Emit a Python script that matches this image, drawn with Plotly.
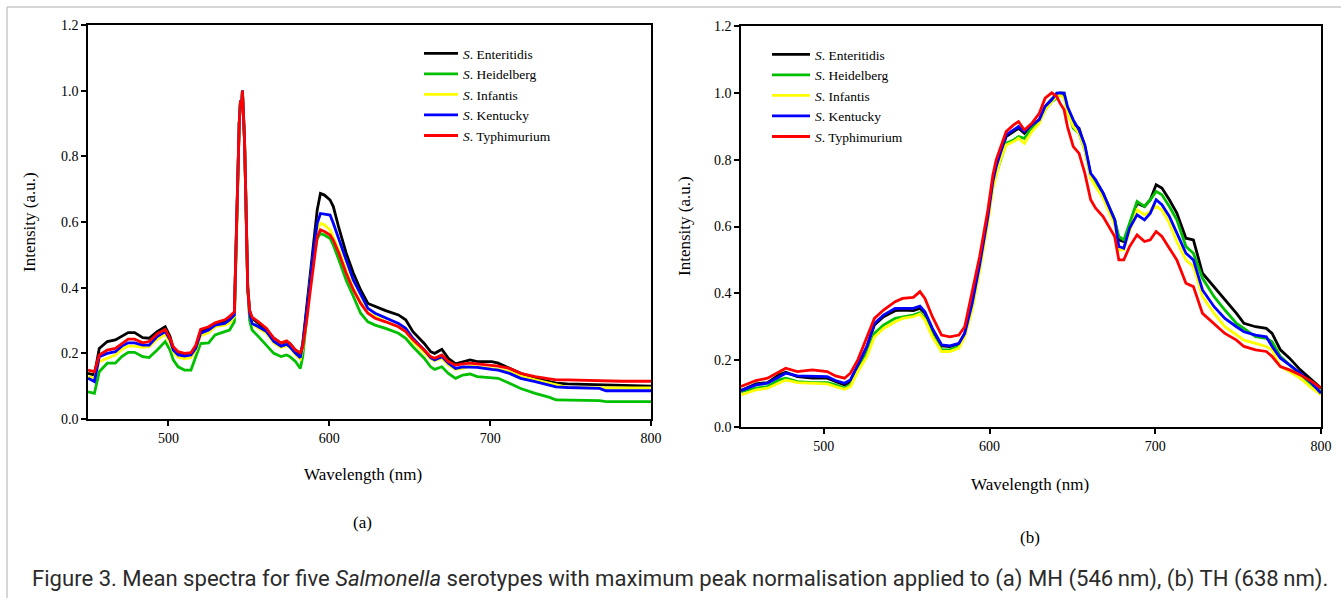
import plotly.graph_objects as go

W, H = 1341, 598

series_names = ["<i>S</i>. Enteritidis", "<i>S</i>. Heidelberg", "<i>S</i>. Infantis",
                "<i>S</i>. Kentucky", "<i>S</i>. Typhimurium"]
series_colors = ["#000000", "#00c000", "#ffff00", "#0000ff", "#ff0000"]

# ---------------- Panel (a): MH normalisation (546 nm) ----------------
wl_a = [450, 454, 457, 462, 467, 471, 475, 479, 484, 488, 493, 498, 501, 503, 506, 510, 514, 517,
        520, 525, 529, 535, 538, 541, 542.5, 543.3, 544, 544.8, 545.5, 546, 546.7, 547.3, 548,
        548.6, 549.3, 550.5, 552, 556, 561, 565.5, 570, 573.5, 575.5, 579, 582, 583.5, 586, 588,
        590, 592.5, 594.5, 597, 600.5, 602.5, 606, 610.5, 615, 619.5, 624, 628.5, 635, 643, 647.5,
        652, 659, 663, 665.5, 670, 674, 678.5, 683, 687.5, 692, 701, 705, 712, 719, 728, 737, 741,
        748, 768, 772, 782, 800]

peak_a = [0.62, 0.81, 0.90, 0.97, 0.95, 1.0, 0.93, 0.85, 0.70, 0.55, 0.40]

enteritidis_a = [0.139, 0.134, 0.215, 0.236, 0.241, 0.253, 0.263, 0.263, 0.248, 0.246, 0.266, 0.281,
                 0.251, 0.215, 0.200, 0.195, 0.200, 0.220, 0.266, 0.276, 0.291, 0.298, 0.312, 0.322] + peak_a + [
                 0.33, 0.307, 0.291, 0.271, 0.246, 0.230, 0.236, 0.230, 0.210, 0.195, 0.230, 0.342, 0.434,
                 0.525, 0.637, 0.687, 0.682, 0.667, 0.647, 0.581, 0.505, 0.444, 0.393, 0.352, 0.342,
                 0.330, 0.317, 0.302, 0.266, 0.230, 0.205, 0.200, 0.212, 0.185, 0.168, 0.175, 0.180,
                 0.175, 0.175, 0.170, 0.154, 0.139, 0.124, 0.114, 0.109, 0.107, 0.104, 0.104, 0.101, 0.100]

heidelberg_a = [0.083, 0.078, 0.144, 0.170, 0.170, 0.190, 0.203, 0.203, 0.190, 0.187, 0.210, 0.236,
                0.210, 0.180, 0.159, 0.149, 0.149, 0.190, 0.230, 0.232, 0.256, 0.266, 0.271, 0.296] + peak_a + [
                0.30, 0.271, 0.251, 0.225, 0.200, 0.190, 0.195, 0.190, 0.175, 0.154, 0.190, 0.310, 0.413,
                0.484, 0.550, 0.565, 0.560, 0.550, 0.530, 0.484, 0.423, 0.373, 0.322, 0.296, 0.286,
                0.276, 0.261, 0.246, 0.220, 0.185, 0.159, 0.151, 0.159, 0.139, 0.124, 0.134, 0.137,
                0.129, 0.127, 0.124, 0.109, 0.093, 0.078, 0.066, 0.058, 0.058, 0.056, 0.053, 0.053, 0.053]

infantis_a = [0.129, 0.124, 0.175, 0.185, 0.195, 0.212, 0.222, 0.222, 0.218, 0.220, 0.243, 0.259,
              0.232, 0.205, 0.188, 0.183, 0.187, 0.210, 0.253, 0.263, 0.281, 0.286, 0.293, 0.312] + peak_a + [
              0.32, 0.291, 0.276, 0.261, 0.232, 0.218, 0.223, 0.218, 0.195, 0.183, 0.215, 0.312, 0.403,
              0.494, 0.576, 0.596, 0.591, 0.576, 0.555, 0.515, 0.454, 0.398, 0.357, 0.324, 0.312,
              0.296, 0.281, 0.266, 0.236, 0.202, 0.183, 0.178, 0.185, 0.164, 0.151, 0.154, 0.161,
              0.159, 0.154, 0.151, 0.144, 0.131, 0.119, 0.109, 0.104, 0.096, 0.095, 0.095, 0.095, 0.095]

kentucky_a = [0.124, 0.114, 0.190, 0.200, 0.205, 0.222, 0.232, 0.232, 0.225, 0.225, 0.251, 0.266,
              0.241, 0.210, 0.195, 0.192, 0.195, 0.215, 0.261, 0.271, 0.286, 0.291, 0.302, 0.317] + peak_a + [
              0.32, 0.291, 0.281, 0.266, 0.236, 0.222, 0.227, 0.220, 0.200, 0.187, 0.225, 0.322, 0.413,
              0.505, 0.596, 0.626, 0.624, 0.621, 0.596, 0.545, 0.484, 0.423, 0.378, 0.337, 0.322,
              0.307, 0.291, 0.276, 0.246, 0.210, 0.187, 0.180, 0.190, 0.170, 0.154, 0.159, 0.159,
              0.157, 0.151, 0.149, 0.139, 0.124, 0.114, 0.104, 0.098, 0.096, 0.093, 0.086, 0.086, 0.086]

typhimurium_a = [0.149, 0.144, 0.195, 0.210, 0.215, 0.230, 0.243, 0.243, 0.232, 0.236, 0.259, 0.273,
                 0.246, 0.220, 0.205, 0.200, 0.202, 0.225, 0.273, 0.281, 0.293, 0.302, 0.312, 0.327] + peak_a + [
                 0.33, 0.310, 0.296, 0.276, 0.246, 0.232, 0.238, 0.230, 0.210, 0.202, 0.220, 0.302, 0.383,
                 0.464, 0.555, 0.576, 0.571, 0.560, 0.545, 0.505, 0.444, 0.393, 0.352, 0.322, 0.307,
                 0.296, 0.281, 0.266, 0.241, 0.210, 0.190, 0.185, 0.195, 0.175, 0.164, 0.168, 0.170,
                 0.168, 0.164, 0.161, 0.154, 0.139, 0.129, 0.121, 0.119, 0.119, 0.117, 0.115, 0.115, 0.115]

# ---------------- Panel (b): TH normalisation (638 nm) ----------------
wl_b = [450, 459, 466, 473, 477, 484, 493, 502, 507, 512.5, 516, 520.5, 526, 530.5, 536, 543, 547.5,
        554, 558, 561, 565.5, 571, 576, 581.5, 585, 589.5, 594, 599, 602, 604, 606.5, 610, 614.5,
        617.5, 621, 625.5, 630, 633.5, 637.5, 640.5, 642.5, 645, 647, 650.5, 654, 657.5, 661, 664,
        668.5, 672, 675.5, 678, 681, 684.5, 689, 693.5, 697, 700.5, 704, 708.5, 713, 718.5, 723,
        728.5, 735.5, 742, 749, 753.5, 760.5, 767, 770.5, 775.5, 781, 787.5, 794.5, 800]

enteritidis_b = [0.109, 0.129, 0.133, 0.156, 0.164, 0.151, 0.146, 0.146, 0.136, 0.126, 0.136, 0.181,
                 0.241, 0.305, 0.330, 0.348, 0.350, 0.348, 0.355, 0.340, 0.290, 0.243, 0.241, 0.249,
                 0.280, 0.365, 0.485, 0.630, 0.735, 0.779, 0.814, 0.869, 0.884, 0.894, 0.879, 0.904,
                 0.919, 0.959, 0.981, 0.994, 0.999, 0.991, 0.949, 0.909, 0.894, 0.839, 0.754, 0.735,
                 0.700, 0.660, 0.620, 0.560, 0.555, 0.600, 0.670, 0.660, 0.680, 0.725, 0.715, 0.680,
                 0.640, 0.565, 0.560, 0.460, 0.420, 0.380, 0.340, 0.310, 0.300, 0.295, 0.280, 0.231,
                 0.206, 0.171, 0.141, 0.116]

heidelberg_b = [0.106, 0.116, 0.121, 0.141, 0.146, 0.136, 0.133, 0.133, 0.126, 0.116, 0.126, 0.171,
                0.221, 0.280, 0.305, 0.325, 0.330, 0.335, 0.342, 0.325, 0.275, 0.231, 0.231, 0.241,
                0.275, 0.360, 0.475, 0.620, 0.720, 0.759, 0.799, 0.849, 0.859, 0.869, 0.864, 0.894,
                0.914, 0.949, 0.974, 0.984, 0.999, 0.999, 0.954, 0.894, 0.879, 0.829, 0.750, 0.730,
                0.695, 0.660, 0.620, 0.570, 0.560, 0.610, 0.675, 0.660, 0.680, 0.705, 0.695, 0.660,
                0.620, 0.540, 0.520, 0.445, 0.390, 0.350, 0.310, 0.295, 0.270, 0.265, 0.255, 0.211,
                0.186, 0.156, 0.126, 0.106]

infantis_b = [0.096, 0.111, 0.116, 0.133, 0.141, 0.133, 0.131, 0.129, 0.121, 0.113, 0.121, 0.166,
              0.211, 0.270, 0.295, 0.315, 0.325, 0.330, 0.338, 0.320, 0.270, 0.226, 0.226, 0.236,
              0.270, 0.350, 0.465, 0.610, 0.715, 0.754, 0.799, 0.844, 0.854, 0.864, 0.849, 0.884,
              0.909, 0.949, 0.974, 0.989, 0.994, 0.984, 0.939, 0.899, 0.879, 0.829, 0.745, 0.720,
              0.685, 0.645, 0.605, 0.530, 0.530, 0.585, 0.650, 0.635, 0.645, 0.660, 0.650, 0.610,
              0.555, 0.500, 0.480, 0.390, 0.340, 0.300, 0.275, 0.260, 0.250, 0.241, 0.231, 0.181,
              0.166, 0.146, 0.116, 0.096]

kentucky_b = [0.109, 0.126, 0.131, 0.151, 0.161, 0.153, 0.151, 0.151, 0.139, 0.131, 0.141, 0.186,
              0.241, 0.310, 0.335, 0.355, 0.355, 0.355, 0.362, 0.345, 0.295, 0.246, 0.243, 0.250,
              0.280, 0.370, 0.485, 0.630, 0.735, 0.779, 0.819, 0.874, 0.889, 0.899, 0.884, 0.904,
              0.919, 0.959, 0.979, 0.999, 1.000, 0.999, 0.959, 0.919, 0.889, 0.844, 0.759, 0.740,
              0.700, 0.660, 0.620, 0.540, 0.535, 0.595, 0.635, 0.620, 0.640, 0.680, 0.665, 0.630,
              0.580, 0.520, 0.500, 0.410, 0.360, 0.325, 0.300, 0.285, 0.275, 0.270, 0.241, 0.206,
              0.186, 0.161, 0.131, 0.101]

typhimurium_b = [0.121, 0.139, 0.146, 0.166, 0.176, 0.166, 0.171, 0.166, 0.153, 0.146, 0.161, 0.201,
                 0.270, 0.325, 0.350, 0.375, 0.385, 0.388, 0.405, 0.385, 0.330, 0.275, 0.270, 0.275,
                 0.300, 0.400, 0.510, 0.650, 0.754, 0.799, 0.834, 0.884, 0.904, 0.914, 0.889, 0.909,
                 0.939, 0.984, 1.000, 0.989, 0.969, 0.949, 0.899, 0.839, 0.819, 0.759, 0.680, 0.655,
                 0.630, 0.600, 0.570, 0.500, 0.500, 0.540, 0.575, 0.555, 0.560, 0.585, 0.570, 0.535,
                 0.500, 0.430, 0.420, 0.340, 0.310, 0.280, 0.260, 0.241, 0.231, 0.226, 0.211, 0.181,
                 0.171, 0.156, 0.136, 0.116]

x_ticks = [500, 600, 700, 800]
y_ticks = [0.0, 0.2, 0.4, 0.6, 0.8, 1.0, 1.2]

series_a = [enteritidis_a, heidelberg_a, infantis_a, kentucky_a, typhimurium_a]
series_b = [enteritidis_b, heidelberg_b, infantis_b, kentucky_b, typhimurium_b]

SERIF = "Liberation Serif, Times New Roman, serif"

fig = go.Figure()
for name, color, ya in zip(series_names, series_colors, series_a):
    fig.add_trace(go.Scatter(x=wl_a, y=ya, mode="lines", name=name, legend="legend",
                             line=dict(color=color, width=2.8), xaxis="x", yaxis="y"))
for name, color, yb in zip(series_names, series_colors, series_b):
    fig.add_trace(go.Scatter(x=wl_b, y=yb, mode="lines", name=name, legend="legend2",
                             line=dict(color=color, width=2.8), xaxis="x2", yaxis="y2"))

def px_x(p):
    return p / W

def px_y(p):
    return 1 - p / H

axis_common = dict(showline=True, linecolor="black", linewidth=1.5, mirror=True,
                   ticks="outside", ticklen=5, tickwidth=1.5, tickcolor="black",
                   showgrid=False, zeroline=False,
                   tickfont=dict(family=SERIF, size=14, color="black"))

fig.update_layout(
    width=W, height=H,
    margin=dict(l=0, r=0, t=0, b=0, autoexpand=False),
    paper_bgcolor="white", plot_bgcolor="white",
    xaxis=dict(domain=[px_x(88), px_x(651)], range=[450, 800], tickvals=x_ticks, anchor="y", **axis_common),
    yaxis=dict(domain=[px_y(419), px_y(25)], range=[0, 1.2], tickvals=y_ticks, tickformat=".1f", anchor="x", **axis_common),
    xaxis2=dict(domain=[px_x(741), px_x(1321)], range=[450, 800], tickvals=x_ticks, anchor="y2", **axis_common),
    yaxis2=dict(domain=[px_y(427), px_y(26)], range=[0, 1.2], tickvals=y_ticks, tickformat=".1f", anchor="x2", **axis_common),
    legend=dict(x=px_x(419), y=px_y(38), xanchor="left", yanchor="top", bgcolor="rgba(0,0,0,0)",
                font=dict(family=SERIF, size=13.5, color="black"), tracegroupgap=0, itemwidth=34),
    legend2=dict(x=px_x(767), y=px_y(39), xanchor="left", yanchor="top", bgcolor="rgba(0,0,0,0)",
                 font=dict(family=SERIF, size=13.5, color="black"), tracegroupgap=0, itemwidth=38),
    showlegend=True,
)

ann = []
def add_text(text, x, y, size, rot=0, family=SERIF, xanchor="center", color="black"):
    ann.append(dict(text=text, x=px_x(x), y=px_y(y), xref="paper", yref="paper", showarrow=False,
                    textangle=rot, xanchor=xanchor, yanchor="middle",
                    font=dict(family=family, size=size, color=color)))

add_text("Wavelength (nm)", 363, 474, 17)
add_text("Wavelength (nm)", 1030, 484, 17)
add_text("Intensity (a.u.)", 30, 222, 17, rot=-90)
add_text("Intensity (a.u.)", 685, 226, 17, rot=-90)
add_text("(a)", 362, 522, 17)
add_text("(b)", 1030, 537, 17)
add_text("Figure 3. Mean spectra for five <i>Salmonella</i> serotypes with maximum peak normalisation "
         "applied to (a) MH (546\u2009nm), (b) TH (638\u2009nm).", 30, 578, 22.1,
         family="Roboto, sans-serif", xanchor="left", color="#2b2b2b")
fig.update_layout(annotations=ann)

fig.update_layout(shapes=[
    dict(type="line", xref="paper", yref="paper", x0=px_x(7), x1=px_x(7), y0=0, y1=px_y(7),
         line=dict(color="#c8c8c8", width=1.5)),
    dict(type="line", xref="paper", yref="paper", x0=px_x(7), x1=1, y0=px_y(7), y1=px_y(7),
         line=dict(color="#c8c8c8", width=1.5)),
])

fig.write_html("out.html", config={"displayModeBar": False},
               post_script="document.body.style.margin='0';document.body.style.overflow='hidden';")
